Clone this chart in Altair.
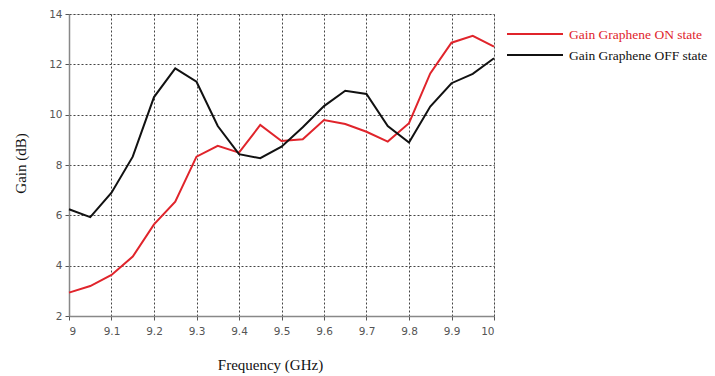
import altair as alt
import pandas as pd

freq = [9.00, 9.05, 9.10, 9.15, 9.20, 9.25, 9.30, 9.35, 9.40, 9.45, 9.50,
        9.55, 9.60, 9.65, 9.70, 9.75, 9.80, 9.85, 9.90, 9.95, 10.00]
gain_on = [2.93, 3.19, 3.63, 4.36, 5.64, 6.54, 8.33, 8.76, 8.49, 9.59, 8.95,
           9.02, 9.79, 9.63, 9.32, 8.93, 9.66, 11.64, 12.86, 13.13, 12.70]
gain_off = [6.24, 5.93, 6.90, 8.33, 10.70, 11.84, 11.31, 9.55, 8.43, 8.27, 8.73,
            9.50, 10.34, 10.95, 10.82, 9.55, 8.89, 10.32, 11.25, 11.62, 12.24]
series_names = ["Gain Graphene ON state", "Gain Graphene OFF state"]
series_colors = ["#e0242b", "#111111"]
x_ticks = [9.0, 9.1, 9.2, 9.3, 9.4, 9.5, 9.6, 9.7, 9.8, 9.9, 10.0]
y_ticks = [2, 4, 6, 8, 10, 12, 14]

df = pd.DataFrame({
    "freq": freq * 2,
    "gain": gain_on + gain_off,
    "series": [series_names[0]] * len(freq) + [series_names[1]] * len(freq),
})

W, H = 425, 302

grid_kw = dict(grid=True, gridColor="#444444", gridDash=[2, 2], gridWidth=1, gridOpacity=1,
               domainColor="#888888", domainWidth=1.5, tickColor="#555555", tickSize=4,
               labelFont="DejaVu Sans", labelFontSize=10.5, labelColor="#555555")

x = alt.X("freq:Q",
          scale=alt.Scale(domain=[9, 10], nice=False, zero=False),
          axis=alt.Axis(values=x_ticks, title="Frequency (GHz)", labelPadding=6,
                        labelExpr="datum.value == 9 ? '9' : datum.value == 10 ? '10' : format(datum.value, '.1f')",
                        titleX=201, titleY=41, titleBaseline="top", titleAnchor="start",
                        titleAlign="center", titleFont="Liberation Serif",
                        titleFontSize=15, titleFontWeight="normal", titleColor="#111",
                        **grid_kw)
          )
y = alt.Y("gain:Q",
          scale=alt.Scale(domain=[2, 14], nice=False, zero=False),
          axis=alt.Axis(values=y_ticks, title="Gain  (dB)", labelPadding=3,
                        titleX=-49, titleY=149, titleAngle=-90, titleAlign="center",
                        titleBaseline="middle", titleAnchor="start",
                        titleFont="Liberation Serif", titleFontSize=15,
                        titleFontWeight="normal", titleColor="#111", **grid_kw))

lines = alt.Chart(df).mark_line(strokeWidth=2).encode(
    x=x, y=y,
    color=alt.Color("series:N", scale=alt.Scale(domain=series_names, range=series_colors),
                    legend=None),
    detail="series:N",
)

layers = [lines]
for i, (name, col) in enumerate(zip(series_names, series_colors)):
    yy = 20 + 21 * i
    rule = alt.Chart(pd.DataFrame({"n": [name]})).mark_rule(
        color=col, strokeWidth=2, clip=False).encode(
        x=alt.value(438), x2=alt.value(494), y=alt.value(yy))
    txt = alt.Chart(pd.DataFrame({"n": [name]})).mark_text(
        align="left", baseline="middle", font="Liberation Serif", fontSize=13.5,
        color=col, clip=False).encode(
        x=alt.value(500), y=alt.value(yy + 1), text="n:N")
    layers += [rule, txt]

chart = alt.layer(*layers).properties(
    width=W, height=H,
    autosize=alt.AutoSizeParams(type="none"),
    padding={"left": 69, "top": 14, "right": 221, "bottom": 60},
).configure_view(
    stroke="#888", strokeWidth=1.5
).configure(background="white")

chart.save("out.html", embed_options={"renderer": "svg", "actions": False})
